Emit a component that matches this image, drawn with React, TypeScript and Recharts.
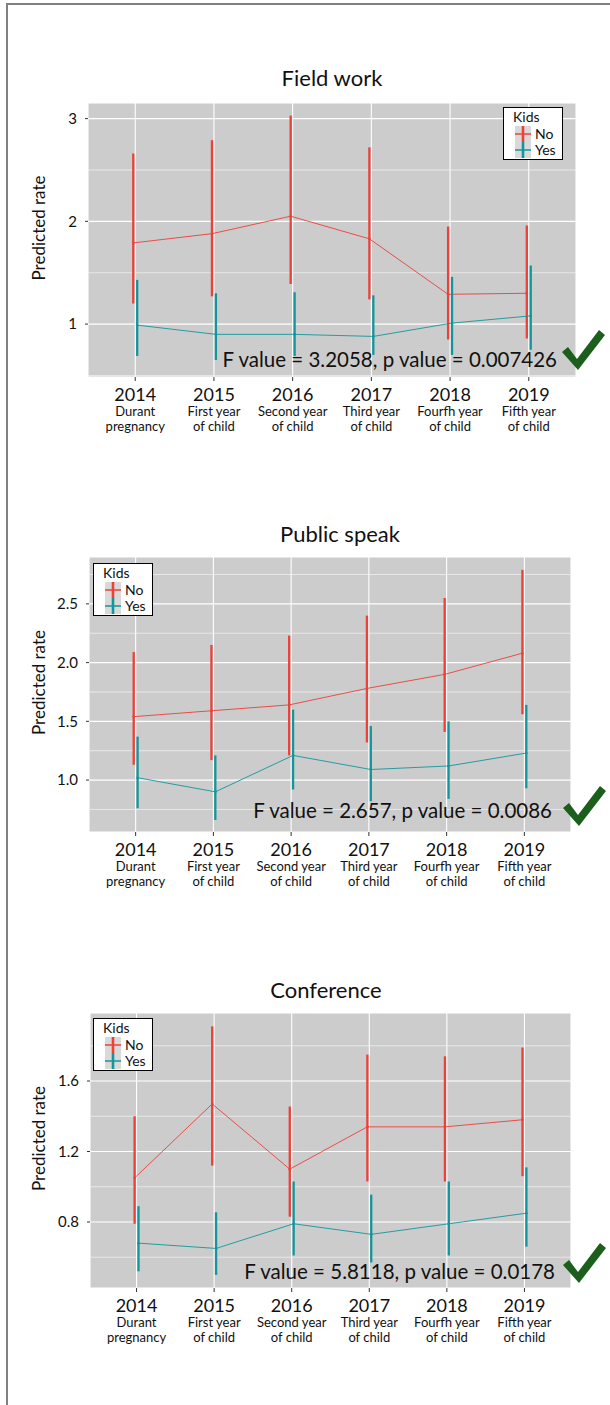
import React from 'react';
import {
  ComposedChart,
  Line,
  ErrorBar,
  XAxis,
  YAxis,
  CartesianGrid,
  ReferenceLine,
  Legend,
} from 'recharts';

// ---- categories ----
const years = ['2014', '2015', '2016', '2017', '2018', '2019'];
const stageLine1 = ['Durant', 'First year', 'Second year', 'Third year', 'Fourfh year', 'Fifth year'];
const stageLine2 = ['pregnancy', 'of child', 'of child', 'of child', 'of child', 'of child'];
const groupNames = ['No', 'Yes'];

// ---- Field work ----
const fieldNoMean = [1.79, 1.88, 2.05, 1.83, 1.29, 1.30];
const fieldNoLow = [1.20, 1.27, 1.39, 1.24, 0.85, 0.86];
const fieldNoHigh = [2.66, 2.79, 3.03, 2.72, 1.95, 1.96];
const fieldYesMean = [0.99, 0.90, 0.90, 0.88, 1.01, 1.08];
const fieldYesLow = [0.69, 0.65, 0.69, 0.70, 0.70, 0.75];
const fieldYesHigh = [1.43, 1.30, 1.31, 1.28, 1.46, 1.57];
const fieldTicks = [1, 2, 3];
const fieldMinor = [0.5, 1.5, 2.5];
const fieldDomain = [0.485, 3.152];

// ---- Public speak ----
const speakNoMean = [1.54, 1.59, 1.64, 1.78, 1.90, 2.08];
const speakNoLow = [1.13, 1.17, 1.21, 1.32, 1.41, 1.56];
const speakNoHigh = [2.09, 2.15, 2.23, 2.40, 2.55, 2.79];
const speakYesMean = [1.02, 0.90, 1.21, 1.09, 1.12, 1.23];
const speakYesLow = [0.76, 0.66, 0.92, 0.82, 0.84, 0.93];
const speakYesHigh = [1.37, 1.21, 1.60, 1.46, 1.50, 1.64];
const speakTicks = [1.0, 1.5, 2.0, 2.5];
const speakMinor = [0.75, 1.25, 1.75, 2.25, 2.75];
const speakDomain = [0.558, 2.899];

// ---- Conference ----
const confNoMean = [1.05, 1.47, 1.10, 1.34, 1.34, 1.38];
const confNoLow = [0.79, 1.12, 0.83, 1.03, 1.03, 1.06];
const confNoHigh = [1.40, 1.91, 1.455, 1.75, 1.74, 1.79];
const confYesMean = [0.68, 0.65, 0.79, 0.73, 0.79, 0.85];
const confYesLow = [0.52, 0.50, 0.61, 0.57, 0.61, 0.66];
const confYesHigh = [0.89, 0.855, 1.03, 0.955, 1.03, 1.11];
const confTicks = [0.8, 1.2, 1.6];
const confMinor = [0.6, 1.0, 1.4, 1.8];
const confDomain = [0.4255, 1.986];

const RED = '#EC4038';
const TEAL = '#12969B';
const PANEL_BG = '#CCCCCC';
const FONT = 'Lato, "Open Sans", sans-serif';
const DODGE = 0.025;

type Row = { x: number; mean: number; err: [number, number] };

function buildRows(mean: number[], low: number[], high: number[], shift: number): Row[] {
  return mean.map((m, i) => ({ x: i + shift, mean: m, err: [m - low[i], high[i] - m] }));
}

const YearTick = (props: any) => {
  const { x, y, payload } = props;
  const i = Math.round(payload.value);
  return (
    <g transform={`translate(${x},${y})`} fontFamily={FONT} fill="#111">
      <text textAnchor="middle" y={18} fontSize={18}>{years[i]}</text>
      <text textAnchor="middle" y={33} fontSize={13}>{stageLine1[i]}</text>
      <text textAnchor="middle" y={47.5} fontSize={13}>{stageLine2[i]}</text>
    </g>
  );
};

const LegendKey = ({ color }: { color: string }) => (
  <svg width={16} height={16} style={{ display: 'block' }}>
    <rect x={0} y={0} width={16} height={16} fill="#D9D9D9" />
    <line x1={0} x2={16} y1={8} y2={8} stroke={color} strokeWidth={1.5} />
    <line x1={8} x2={8} y1={0} y2={16} stroke={color} strokeWidth={2.6} />
  </svg>
);

const KidsLegend = () => (
  <div
    style={{
      boxSizing: 'border-box',
      width: 60,
      height: 53,
      border: '1.2px solid #000',
      background: '#fff',
      fontFamily: FONT,
      fontSize: 14,
      color: '#111',
      position: 'relative',
    }}
  >
    <div style={{ position: 'absolute', left: 9, top: 1, lineHeight: '15px' }}>Kids</div>
    {[RED, TEAL].map((c, k) => (
      <div key={k} style={{ position: 'absolute', left: 11, top: 18 + k * 16, display: 'flex', alignItems: 'center' }}>
        <LegendKey color={c} />
        <span style={{ marginLeft: 4, lineHeight: '16px' }}>{groupNames[k]}</span>
      </div>
    ))}
  </div>
);

type PanelProps = {
  title: string;
  titleX: number;
  titleY: number;
  plotLeft: number;
  plotRight: number;
  plotTop: number;
  plotBottom: number;
  no: Row[];
  yes: Row[];
  domain: number[];
  ticks: number[];
  minor: number[];
  decimals: number;
  legendX: number;
  legendY: number;
  stat: string;
  statRight: number;
  statBaseline: number;
  checkX: number;
  checkY: number;
};

const Panel = (p: PanelProps) => {
  const chartTop = p.plotTop - 10;
  const plotH = p.plotBottom - p.plotTop;
  const height = 10 + plotH + 70;
  const labelCy = (p.plotTop + p.plotBottom) / 2 - 12;
  return (
    <>
      <div style={{ position: 'absolute', left: 0, top: chartTop, width: 610, height }}>
        <ComposedChart
          width={610}
          height={height}
          margin={{ top: 10, right: 610 - p.plotRight, bottom: 0, left: 0 }}
        >
          <CartesianGrid fill={PANEL_BG} stroke="#FFFFFF" strokeWidth={1.1} />
          {p.minor.map((v) => (
            <ReferenceLine key={v} y={v} stroke="#F4F4F4" strokeWidth={0.7} />
          ))}
          <XAxis
            type="number"
            dataKey="x"
            domain={[-0.6, 5.6]}
            allowDataOverflow
            ticks={[0, 1, 2, 3, 4, 5]}
            interval={0}
            height={70}
            axisLine={false}
            tickSize={4}
            tickMargin={2}
            tickLine={{ stroke: '#333', strokeWidth: 1 }}
            tick={<YearTick />}
          />
          <YAxis
            type="number"
            domain={p.domain}
            allowDataOverflow
            ticks={p.ticks}
            width={p.plotLeft}
            axisLine={false}
            tickSize={3}
            tickMargin={8}
            tickLine={{ stroke: '#333', strokeWidth: 1 }}
            tick={{ fill: '#111', fontSize: 15, fontFamily: FONT }}
            tickFormatter={(v: number) => v.toFixed(p.decimals)}
          />
          <Line
            data={p.no}
            dataKey="mean"
            type="linear"
            stroke={RED}
            strokeWidth={0.9}
            dot={{ r: 1.3, fill: RED, stroke: 'none' }}
            activeDot={false}
            isAnimationActive={false}
          >
            <ErrorBar dataKey="err" direction="y" width={0} stroke={RED} strokeWidth={2.3} />
          </Line>
          <Line
            data={p.yes}
            dataKey="mean"
            type="linear"
            stroke={TEAL}
            strokeWidth={0.9}
            dot={{ r: 1.3, fill: TEAL, stroke: 'none' }}
            activeDot={false}
            isAnimationActive={false}
          >
            <ErrorBar dataKey="err" direction="y" width={0} stroke={TEAL} strokeWidth={2.3} />
          </Line>
          <Legend
            content={<KidsLegend />}
            layout="horizontal"
            verticalAlign="middle"
            align="center"
            wrapperStyle={{ left: p.legendX, top: p.legendY - chartTop, width: 60, height: 53 }}
          />
        </ComposedChart>
      </div>
      <svg
        style={{ position: 'absolute', left: 0, top: 0, overflow: 'visible', pointerEvents: 'none' }}
        width={610}
        height={1405}
      >
        <text x={p.titleX} y={p.titleY} textAnchor="middle" fontFamily={FONT} fontSize={22} fill="#111">
          {p.title}
        </text>
        <text
          transform={`translate(38,${labelCy}) rotate(-90)`}
          textAnchor="middle"
          dominantBaseline="central"
          fontFamily={FONT}
          fontSize={17}
          fill="#111"
        >
          Predicted rate
        </text>
        <text x={p.statRight} y={p.statBaseline} textAnchor="end" fontFamily={FONT} fontSize={20.5} fill="#111">
          {p.stat}
        </text>
        <polygon
          transform={`translate(${p.checkX},${p.checkY})`}
          points="0,22 6,17 15,29 37,0 43,5 16,40"
          fill="#1C5E1C"
        />
      </svg>
    </>
  );
};

export default function App() {
  return (
    <div style={{ position: 'absolute', left: 0, top: 0, width: 610, height: 1405, background: '#fff', overflow: 'hidden' }}>
      {/* page frame */}
      <div style={{ position: 'absolute', left: 6, top: 3, width: 604, height: 2, background: '#808080' }} />
      <div style={{ position: 'absolute', left: 6, top: 3, width: 2, height: 1402, background: '#808080' }} />

      <Panel
        title="Field work"
        titleX={332}
        titleY={86}
        plotLeft={88}
        plotRight={576}
        plotTop={103}
        plotBottom={377}
        no={buildRows(fieldNoMean, fieldNoLow, fieldNoHigh, -DODGE)}
        yes={buildRows(fieldYesMean, fieldYesLow, fieldYesHigh, DODGE)}
        domain={fieldDomain}
        ticks={fieldTicks}
        minor={fieldMinor}
        decimals={0}
        legendX={503}
        legendY={107}
        stat="F value = 3.2058, p value = 0.007426"
        statRight={557}
        statBaseline={367}
        checkX={562}
        checkY={330}
      />
      <Panel
        title="Public speak"
        titleX={340}
        titleY={542}
        plotLeft={89}
        plotRight={571}
        plotTop={557}
        plotBottom={832}
        no={buildRows(speakNoMean, speakNoLow, speakNoHigh, -DODGE)}
        yes={buildRows(speakYesMean, speakYesLow, speakYesHigh, DODGE)}
        domain={speakDomain}
        ticks={speakTicks}
        minor={speakMinor}
        decimals={1}
        legendX={93}
        legendY={563}
        stat="F value = 2.657, p value = 0.0086"
        statRight={552}
        statBaseline={818}
        checkX={563}
        checkY={786}
      />
      <Panel
        title="Conference"
        titleX={326}
        titleY={998}
        plotLeft={90}
        plotRight={571}
        plotTop={1013}
        plotBottom={1288}
        no={buildRows(confNoMean, confNoLow, confNoHigh, -DODGE)}
        yes={buildRows(confYesMean, confYesLow, confYesHigh, DODGE)}
        domain={confDomain}
        ticks={confTicks}
        minor={confMinor}
        decimals={1}
        legendX={93}
        legendY={1018}
        stat="F value = 5.8118, p value = 0.0178"
        statRight={555}
        statBaseline={1279}
        checkX={563}
        checkY={1243}
      />
    </div>
  );
}
